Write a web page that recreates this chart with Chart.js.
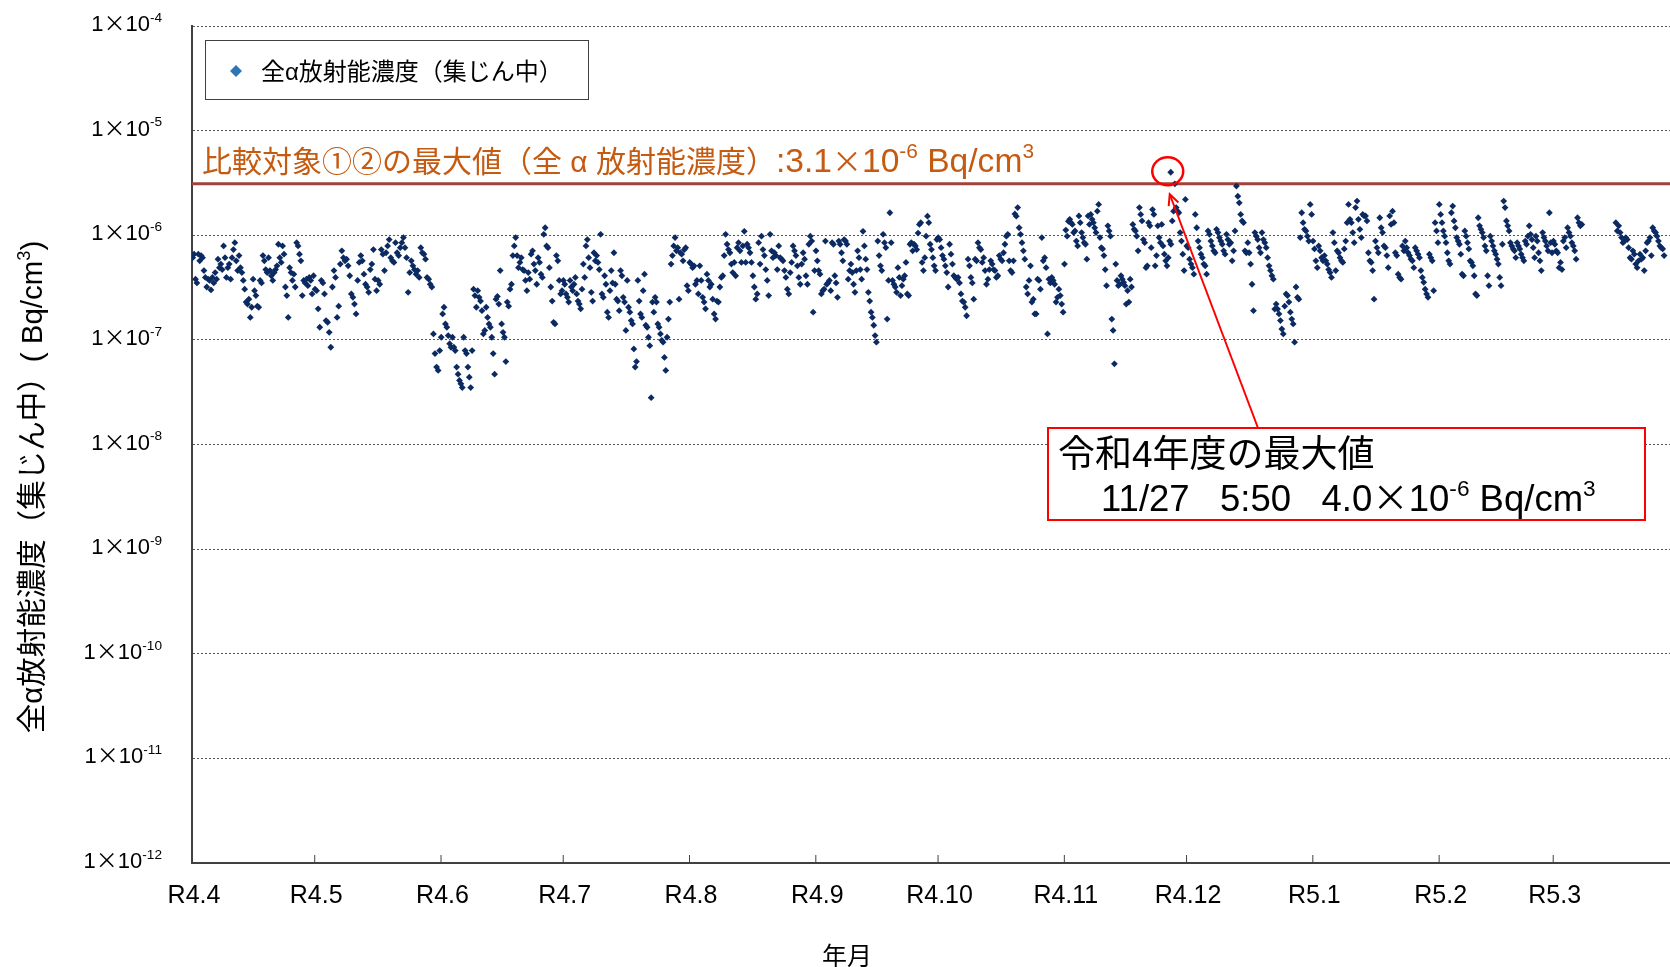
<!DOCTYPE html>
<html lang="ja">
<head>
<meta charset="utf-8">
<title>全α放射能濃度（集じん中）</title>
<script src="https://cdn.jsdelivr.net/npm/chart.js"></script>
<style>
  html, body { margin: 0; padding: 0; background: #fff; overflow: hidden; }
  canvas { display: block; }
</style>
</head>
<body>
<canvas id="grafico" width="1700" height="967"></canvas>
<script>
// valores, em unidades de 1×10^-7 Bq/cm3
const UNIT = 1e-7;

const apr = [6.1, 6.6, 3.8, 3.5, 6.6, 5.7, 6.4, 6.1, 4.6, 3.95, 3.2, 3.8, 3.7, 3.0, 3.95, 3.5, 4.4, 3.8, 5.9, 4.9, 5.3, 4.7, 7.9, 6.1, 3.95, 4.9, 5.3, 3.8, 6.1, 7.3, 8.5, 5.7, 4.6, 6.4, 4.9, 4.4, 3.7, 3.05, 2.3, 2.2, 2.45, 1.64, 2.05, 3.8, 2.95, 2.65, 2.1, 2.05, 3.7, 3.5, 6.4, 5.7, 4.7, 4.4, 6.1, 4.6, 4.1, 3.7, 4.4, 4.7, 5.1, 8.2, 6.1, 5.5, 7.9, 6.6, 3.2, 2.65, 1.64, 4.9, 4.4, 3.7, 4.25, 3.2, 8.5, 7.9, 6.6, 5.7, 2.65, 3.7, 3.5, 3.8, 3.3, 3.95, 3.7, 2.75, 4.1];
const may = [3.05, 2.95, 1.98, 1.32, 3.7, 3.5, 2.75, 1.53, 1.47, 1.18, 0.85, 3.2, 4.6, 3.95, 1.64, 2.1, 5.3, 7.1, 6.1, 5.7, 5.9, 5.1, 4.1, 2.75, 2.55, 2.2, 1.77, 3.7, 5.5, 6.4, 5.7, 4.25, 3.4, 3.2, 2.85, 4.7, 5.3, 7.3, 3.8, 2.95, 3.7, 3.4, 7.3, 6.6, 4.6, 6.8, 7.9, 9.1, 6.1, 5.7, 5.5, 8.5, 6.8, 6.4, 7.6, 8.5, 9.5, 7.6, 6.1, 2.85, 4.4, 5.7, 5.1, 4.7, 4.25, 4.6, 3.95, 7.6, 6.8, 6.6, 5.9, 3.95, 3.8, 3.4, 3.2, 1.14, 0.74, 0.55, 0.51, 0.79];
const jun = [1.06, 1.77, 2.05, 1.42, 1.32, 1.1, 0.92, 0.85, 1.06, 0.85, 0.79, 0.55, 0.47, 0.41, 0.38, 0.35, 1.06, 0.79, 0.74, 0.55, 0.44, 0.35, 0.79, 3.05, 2.65, 2.05, 2.95, 2.55, 2.35, 1.9, 1.14, 1.23, 2.05, 1.64, 1.42, 1.32, 1.06, 0.74, 0.47, 2.45, 2.6, 2.2, 4.6, 1.42, 1.18, 1.06, 0.62, 2.3, 2.1, 3.05, 3.4, 6.4, 7.9, 9.5, 6.4, 4.9, 5.5, 6.1, 4.7, 4.6, 3.7, 2.95, 4.4, 3.8, 6.6, 7.1, 5.3, 4.6, 3.4, 6.1, 5.5, 4.25, 3.95, 10.2, 11.8, 7.9, 7.6, 4.9, 3.2, 2.35, 1.47, 1.42, 6.4, 5.7, 3.7, 2.75, 2.95];
const jul = [3.7, 3.4, 2.75, 2.55, 2.3, 3.7, 3.2, 2.95, 3.4, 3.95, 2.75, 2.35, 2.2, 1.98, 3.05, 5.3, 3.95, 7.9, 9.1, 6.1, 4.9, 2.85, 2.35, 6.8, 5.7, 6.4, 5.5, 4.7, 10.2, 2.75, 2.55, 4.1, 3.4, 1.84, 1.64, 2.95, 4.6, 3.5, 6.8, 3.4, 2.45, 2.35, 1.9, 4.6, 4.1, 2.55, 2.3, 1.23, 3.7, 2.05, 1.84, 1.53, 1.42, 0.82, 0.55, 0.62, 3.7, 2.35, 1.77, 1.64, 2.95, 4.25, 1.38, 1.32, 1.06, 0.88, 0.28, 2.3, 1.84, 2.55, 2.3, 1.42, 1.32, 1.14, 0.99, 0.95, 0.68, 0.51, 1.06, 1.58, 2.3, 5.3, 6.4, 7.9, 9.5, 7.1, 7.6, 2.45, 6.8, 6.6, 5.7, 7.3, 7.6, 3.3, 2.95];
const aug = [5.5, 5.3, 4.9, 5.1, 3.4, 3.7, 2.75, 5.1, 3.7, 2.55, 2.3, 1.98, 4.25, 3.7, 3.2, 3.4, 2.45, 1.77, 1.58, 2.35, 2.3, 3.2, 3.95, 4.1, 6.4, 10.2, 8.2, 7.3, 6.8, 5.3, 4.4, 5.5, 4.1, 7.6, 8.5, 7.1, 5.5, 7.9, 10.9, 5.5, 8.2, 7.6, 6.8, 5.5, 4.1, 3.2, 2.45, 2.75, 8.5, 5.3, 9.8, 7.3, 6.4, 4.7, 3.7, 2.65, 10.2, 7.1, 6.1, 6.8, 6.4, 4.7, 7.9, 6.1, 5.9, 5.7, 4.6, 3.95, 3.05, 2.75, 4.4, 5.5, 7.9, 7.1, 6.4, 5.1, 3.95, 3.4, 5.3, 6.8, 5.9, 4.1, 3.4, 8.2, 9.8, 8.8, 1.84, 4.6];
const sep = [7.1, 5.7, 4.6, 4.25, 2.75, 2.95, 3.05, 8.8, 3.4, 3.5, 3.7, 2.95, 8.5, 8.2, 4.1, 3.5, 2.55, 8.8, 8.2, 6.8, 5.7, 9.1, 8.8, 8.2, 3.8, 4.6, 5.3, 4.4, 3.4, 2.85, 4.6, 7.1, 6.1, 4.7, 3.8, 10.9, 7.9, 5.9, 4.7, 2.85, 2.35, 1.84, 1.64, 1.38, 1.1, 0.95, 8.8, 6.4, 5.1, 4.6, 10.2, 8.5, 7.6, 1.58, 3.7, 16.4, 8.5, 3.7, 3.4, 3.2, 2.85, 4.9, 3.95, 2.65, 3.3, 3.8, 4.1, 5.5, 2.75, 2.65, 8.2, 8.5, 7.1, 8.2, 7.9, 7.3, 10.5, 12.7, 13.2, 5.5, 4.6, 6.1, 9.8, 15.2, 13.2, 8.2, 7.3, 6.1, 5.1, 4.6, 9.1];
const oct = [9.5, 9.1, 7.6, 6.4, 5.9, 5.1, 4.4, 3.2, 8.2, 6.6, 5.3, 4.1, 3.95, 3.8, 3.95, 3.5, 2.75, 2.35, 2.3, 2.05, 1.7, 5.9, 5.1, 3.95, 3.5, 2.45, 5.9, 5.7, 8.5, 7.6, 7.3, 5.5, 6.1, 4.6, 3.4, 3.8, 4.7, 5.7, 5.3, 4.7, 4.6, 3.95, 4.1, 6.4, 5.9, 5.7, 6.8, 8.2, 9.8, 10.2, 5.7, 4.6, 4.4, 5.7, 16.0, 15.2, 18.4, 11.8, 10.2, 8.5, 7.1, 5.9, 3.2, 2.75, 3.7, 5.1, 2.3, 2.45, 1.77, 1.77, 3.8, 3.7, 3.05, 9.5, 5.7, 6.1, 4.9, 1.14, 3.8, 3.5, 3.95, 3.7, 3.4, 2.3, 2.55, 3.05, 2.65, 2.2, 1.84];
const nov = [5.3, 11.2, 9.8, 13.6, 14.2, 13.2, 12.7, 10.6, 11.0, 8.8, 7.9, 15.3, 13.2, 10.6, 9.5, 8.5, 8.2, 5.9, 15.3, 12.7, 15.8, 14.2, 13.2, 11.8, 10.6, 17.0, 19.7, 9.5, 7.6, 7.4, 6.4, 4.7, 3.3, 12.3, 11.0, 9.8, 1.58, 1.23, 0.59, 5.3, 3.7, 3.3, 3.4, 4.1, 3.8, 3.55, 3.3, 2.2, 2.95, 2.3, 3.8, 3.2, 12.7, 11.4, 11.0, 9.8, 7.1, 18.4, 15.8, 13.7, 9.1, 8.5, 4.9, 5.1, 13.2, 12.3, 7.6, 17.6, 15.8, 5.1, 6.4, 12.3, 9.5, 8.5, 12.7, 7.9, 6.6, 5.7, 5.1, 6.1, 8.8, 8.2, 13.7, 17.0, 31, 18.4, 17.0, 16.4, 10.6, 8.8, 6.6, 4.6, 22.0];
const dec = [7.9, 7.6, 5.9, 5.3, 4.9, 4.25, 15.8, 11.8, 8.8, 7.6, 6.6, 6.1, 5.3, 5.1, 4.25, 11.0, 10.2, 8.8, 7.9, 7.1, 6.8, 11.4, 10.6, 9.5, 8.8, 8.2, 7.1, 6.6, 10.2, 9.1, 8.2, 8.5, 5.7, 7.1, 11.0, 29.5, 23.6, 20.4, 15.8, 13.7, 13.2, 7.1, 6.8, 8.5, 6.8, 5.3, 3.4, 1.9, 10.6, 9.8, 9.1, 7.6, 6.8, 10.6, 9.1, 8.5, 7.6, 6.1, 5.1, 4.6, 4.1, 3.8, 1.97, 2.2, 1.97, 1.77, 1.53, 1.27, 1.14, 2.1, 2.75, 2.65, 2.3, 1.84, 1.58, 1.42, 0.95, 3.2, 2.55, 2.45, 9.5, 16.4, 13.2, 11.4, 11.0, 9.8, 8.8, 19.7, 15.8];
const jan = [8.8, 7.4, 5.7, 4.9, 7.9, 7.1, 6.1, 5.7, 6.4, 5.7, 5.3, 4.7, 4.4, 3.95, 10.6, 8.5, 4.6, 7.1, 6.8, 6.1, 5.7, 5.5, 7.4, 8.8, 13.2, 19.7, 14.2, 13.2, 10.6, 8.5, 18.4, 21.2, 14.2, 11.4, 9.5, 15.8, 15.3, 15.3, 13.7, 6.8, 5.7, 5.5, 4.6, 2.45, 8.8, 7.6, 6.8, 14.7, 11.8, 10.6, 7.9, 7.6, 6.4, 4.9, 15.3, 12.7, 17.0, 13.2, 6.8, 6.4, 4.25, 3.95, 3.8, 7.9, 7.1, 8.8, 7.6, 6.8, 6.4, 5.9, 5.7, 4.9, 7.6, 7.1, 6.6, 6.1, 4.6, 3.95, 3.55, 3.05, 2.75, 2.55, 6.6, 6.1, 5.7, 2.95, 13.2, 11.0, 8.5];
const feb = [19.7, 15.8, 13.2, 11.0, 9.8, 8.5, 6.8, 5.7, 5.3, 16.4, 19.0, 13.7, 11.8, 9.5, 8.8, 8.2, 6.6, 4.25, 4.1, 11.0, 9.8, 8.5, 7.4, 5.7, 5.5, 5.1, 4.1, 2.75, 2.65, 14.7, 12.3, 11.4, 10.6, 9.5, 7.9, 7.1, 4.1, 3.3, 9.8, 8.8, 7.9, 7.1, 6.6, 5.9, 5.3, 3.95, 3.3, 8.2, 21.2, 18.4, 13.7, 12.3, 11.0, 8.5, 7.9, 7.4, 7.1, 6.1, 8.5, 7.9, 7.4, 6.6, 6.1, 5.7, 8.8, 8.2, 9.8, 12.3, 10.2, 9.1, 7.6, 6.1, 9.8, 8.8, 6.8, 5.7, 4.6, 10.6, 9.5, 8.8, 7.9, 7.1, 16.4, 8.5, 6.8];
const mar = [8.8, 8.2, 7.1, 6.8, 4.9, 5.5, 4.7, 8.8, 9.5, 7.6, 11.8, 10.6, 9.8, 8.5, 7.9, 7.1, 5.9, 14.7, 13.2, 12.3, 12.7,
  null, null, null, null, null, null, null, null, null, null, null, null, null, null, null, null, null, null, null, null, null, null, null,
  13.2, 11.0, 12.3, 10.6, 9.5, 8.5, 8.8, 9.5, 9.1, 7.6, 6.1, 5.9, 7.1, 6.6, 5.3, 4.9, 5.7, 6.6, 5.9, 6.1, 4.6, 7.1, 8.5, 8.8, 9.5, 6.4, 11.8, 11.0, 10.6, 9.8, 8.8, 7.9, 7.6, 7.4, 6.4,
  null, null, null, null, null, null, null, null, null, null];

const monthLabels = ['R4.4', 'R4.5', 'R4.6', 'R4.7', 'R4.8', 'R4.9', 'R4.10', 'R4.11', 'R4.12', 'R5.1', 'R5.2', 'R5.3'];
const monthDays = [30, 31, 30, 31, 31, 30, 31, 30, 31, 31, 28, 31];
const yTicks = [1e-12, 1e-11, 1e-10, 1e-9, 1e-8, 1e-7, 1e-6, 1e-5, 1e-4];
const refValue = 3.1e-6;
const maxPoint = { month: 7, day: 27, hour: 5, minute: 50, value: 4.0e-6 };

const monthValues = [apr, may, jun, jul, aug, sep, oct, nov, dec, jan, feb, mar];
const monthStart = [];
let soma = 0;
monthDays.forEach(d => { monthStart.push(soma); soma += d; });

const pontos = [];
monthValues.forEach((vals, m) => {
    vals.forEach((v, i) => {
        if (v === null) return;
        pontos.push({ x: monthStart[m] + (i + 0.5) * monthDays[m] / vals.length, y: v * UNIT });
    });
});
const maxX = monthStart[maxPoint.month] + maxPoint.day - 1 + (maxPoint.hour + maxPoint.minute / 60) / 24;
pontos.push({ x: maxX, y: maxPoint.value });

const FONT = '"Liberation Sans", "Noto Sans CJK JP", sans-serif';
const JP = '"Noto Sans CJK JP", sans-serif';

// texto com expoentes (partes: [texto, sobrescrito?, fonte, escala])
function richText(ctx, parts, x, y, size, align) {
    const fontOf = p => {
        const s = size * (p[3] || 1);
        return `${p[1] ? s * 0.62 : s}px ${p[2] || FONT}`;
    };
    let w = 0;
    parts.forEach(p => {
        ctx.font = fontOf(p);
        w += ctx.measureText(p[0]).width;
    });
    let cx = align === 'right' ? x - w : (align === 'center' ? x - w / 2 : x);
    ctx.textAlign = 'left';
    ctx.textBaseline = 'alphabetic';
    parts.forEach(p => {
        ctx.font = fontOf(p);
        ctx.fillText(p[0], cx, p[1] ? y - size * (p[3] || 1) * 0.42 : y);
        cx += ctx.measureText(p[0]).width;
    });
}

const decoracao = {
    id: 'decoracao',
    beforeDatasetsDraw(chart) {
        const { ctx, chartArea, scales } = chart;
        const yRef = scales.y.getPixelForValue(refValue);
        ctx.save();
        ctx.strokeStyle = '#a3403d';
        ctx.lineWidth = 3;
        ctx.beginPath();
        ctx.moveTo(chartArea.left, yRef);
        ctx.lineTo(chartArea.right, yRef);
        ctx.stroke();
        ctx.restore();
    },
    afterDraw(chart) {
        const { ctx, chartArea, scales } = chart;
        const xs = scales.x, ys = scales.y;
        ctx.save();

        // eixo y
        ctx.fillStyle = '#000';
        yTicks.forEach(v => {
            const py = ys.getPixelForValue(v);
            richText(ctx, [['1'], ['×', false, JP], ['10'], [String(Math.round(Math.log10(v))), true]], 162, py + 5, 22, 'right');
        });

        // eixo x: marcas internas e rótulos
        ctx.strokeStyle = '#404040';
        ctx.lineWidth = 1;
        monthLabels.forEach((lab, m) => {
            const px = xs.getPixelForValue(monthStart[m]);
            if (m > 0) {
                ctx.beginPath();
                ctx.moveTo(px + 0.5, chartArea.bottom);
                ctx.lineTo(px + 0.5, chartArea.bottom - 8);
                ctx.stroke();
            }
            richText(ctx, [[lab]], px + 2, 903, 25, 'center');
        });
        richText(ctx, [['年月']], 847, 965, 25, 'center');

        // título do eixo y
        ctx.save();
        ctx.translate(42, 487);
        ctx.rotate(-Math.PI / 2);
        richText(ctx, [['全α放射能濃度（集じん中）( Bq/cm'], ['3', true], [')']], 0, 0, 29.5, 'center');
        ctx.restore();

        // legenda
        ctx.fillStyle = '#fff';
        ctx.fillRect(205.5, 40.5, 383, 59);
        ctx.strokeStyle = '#404040';
        ctx.strokeRect(205.5, 40.5, 383, 59);
        ctx.fillStyle = '#2e75b6';
        ctx.beginPath();
        ctx.moveTo(236, 65); ctx.lineTo(242, 71); ctx.lineTo(236, 77); ctx.lineTo(230, 71);
        ctx.closePath();
        ctx.fill();
        ctx.fillStyle = '#000';
        richText(ctx, [['全α放射能濃度（集じん中）']], 261, 80, 24, 'left');

        // linha de referência
        const yRef = ys.getPixelForValue(refValue);
        ctx.fillStyle = '#c55a11';
        richText(ctx, [
            ['比較対象①②の最大値（全 α 放射能濃度）'],
            [':3.1', false, null, 1.12], ['×', false, JP], ['10', false, null, 1.12], ['-6', true, null, 1.12],
            [' Bq/cm', false, null, 1.12], ['3', true, null, 1.12]
        ], chartArea.left + 10, yRef - 12, 30, 'left');

        // valor máximo
        const mx = xs.getPixelForValue(maxX), my = ys.getPixelForValue(maxPoint.value);
        ctx.strokeStyle = '#ff0000';
        ctx.lineWidth = 2.5;
        ctx.beginPath();
        ctx.ellipse(mx - 3, my - 1, 15.5, 14, 0, 0, Math.PI * 2);
        ctx.stroke();

        const tipX = mx - 1, tipY = my + 22;
        const tailX = 1258, tailY = 428;
        ctx.lineWidth = 2;
        ctx.beginPath();
        ctx.moveTo(tailX, tailY);
        ctx.lineTo(tipX, tipY);
        ctx.stroke();
        const ang = Math.atan2(tipY - tailY, tipX - tailX);
        ctx.beginPath();
        ctx.moveTo(tipX - 12 * Math.cos(ang - 0.45), tipY - 12 * Math.sin(ang - 0.45));
        ctx.lineTo(tipX, tipY);
        ctx.lineTo(tipX - 12 * Math.cos(ang + 0.45), tipY - 12 * Math.sin(ang + 0.45));
        ctx.stroke();

        ctx.fillStyle = '#fff';
        ctx.fillRect(1048, 428, 597, 92);
        ctx.strokeRect(1048, 428, 597, 92);
        ctx.fillStyle = '#000';
        richText(ctx, [['令和4年度の最大値']], 1058, 467, 37, 'left');
        richText(ctx, [['11/27   5:50   4.0'], ['×', false, JP], ['10'], ['-6', true], [' Bq/cm'], ['3', true]], 1101, 511, 36.5, 'left');

        ctx.restore();
    }
};

const ctx = document.getElementById('grafico').getContext('2d');
const chart = new Chart(ctx, {
    type: 'scatter',
    data: {
        datasets: [{
            label: '全α放射能濃度（集じん中）',
            data: pontos,
            pointStyle: 'rectRot',
            pointRadius: 3.4,
            borderWidth: 0,
            backgroundColor: '#0c2a62',
            borderColor: '#0c2a62'
        }]
    },
    options: {
        responsive: false,
        animation: false,
        devicePixelRatio: 1,
        layout: { padding: { left: 192, top: 26, right: 21, bottom: 104 } },
        scales: {
            x: {
                type: 'linear',
                min: 0,
                max: 365,
                grid: { display: false, drawTicks: false },
                ticks: { display: false },
                border: { display: true, color: '#404040', width: 2 }
            },
            y: {
                type: 'logarithmic',
                min: 1e-12,
                max: 1e-4,
                afterBuildTicks: s => { s.ticks = yTicks.map(v => ({ value: v })); },
                grid: {
                    color: c => (c.tick && c.tick.value === 1e-12) ? 'rgba(0,0,0,0)' : '#555',
                    lineWidth: 1,
                    drawTicks: false
                },
                ticks: { display: false },
                border: { display: true, color: '#404040', width: 2, dash: [2, 2] }
            }
        },
        plugins: {
            legend: { display: false },
            tooltip: { enabled: false }
        }
    },
    plugins: [decoracao]
});
</script>
</body>
</html>
